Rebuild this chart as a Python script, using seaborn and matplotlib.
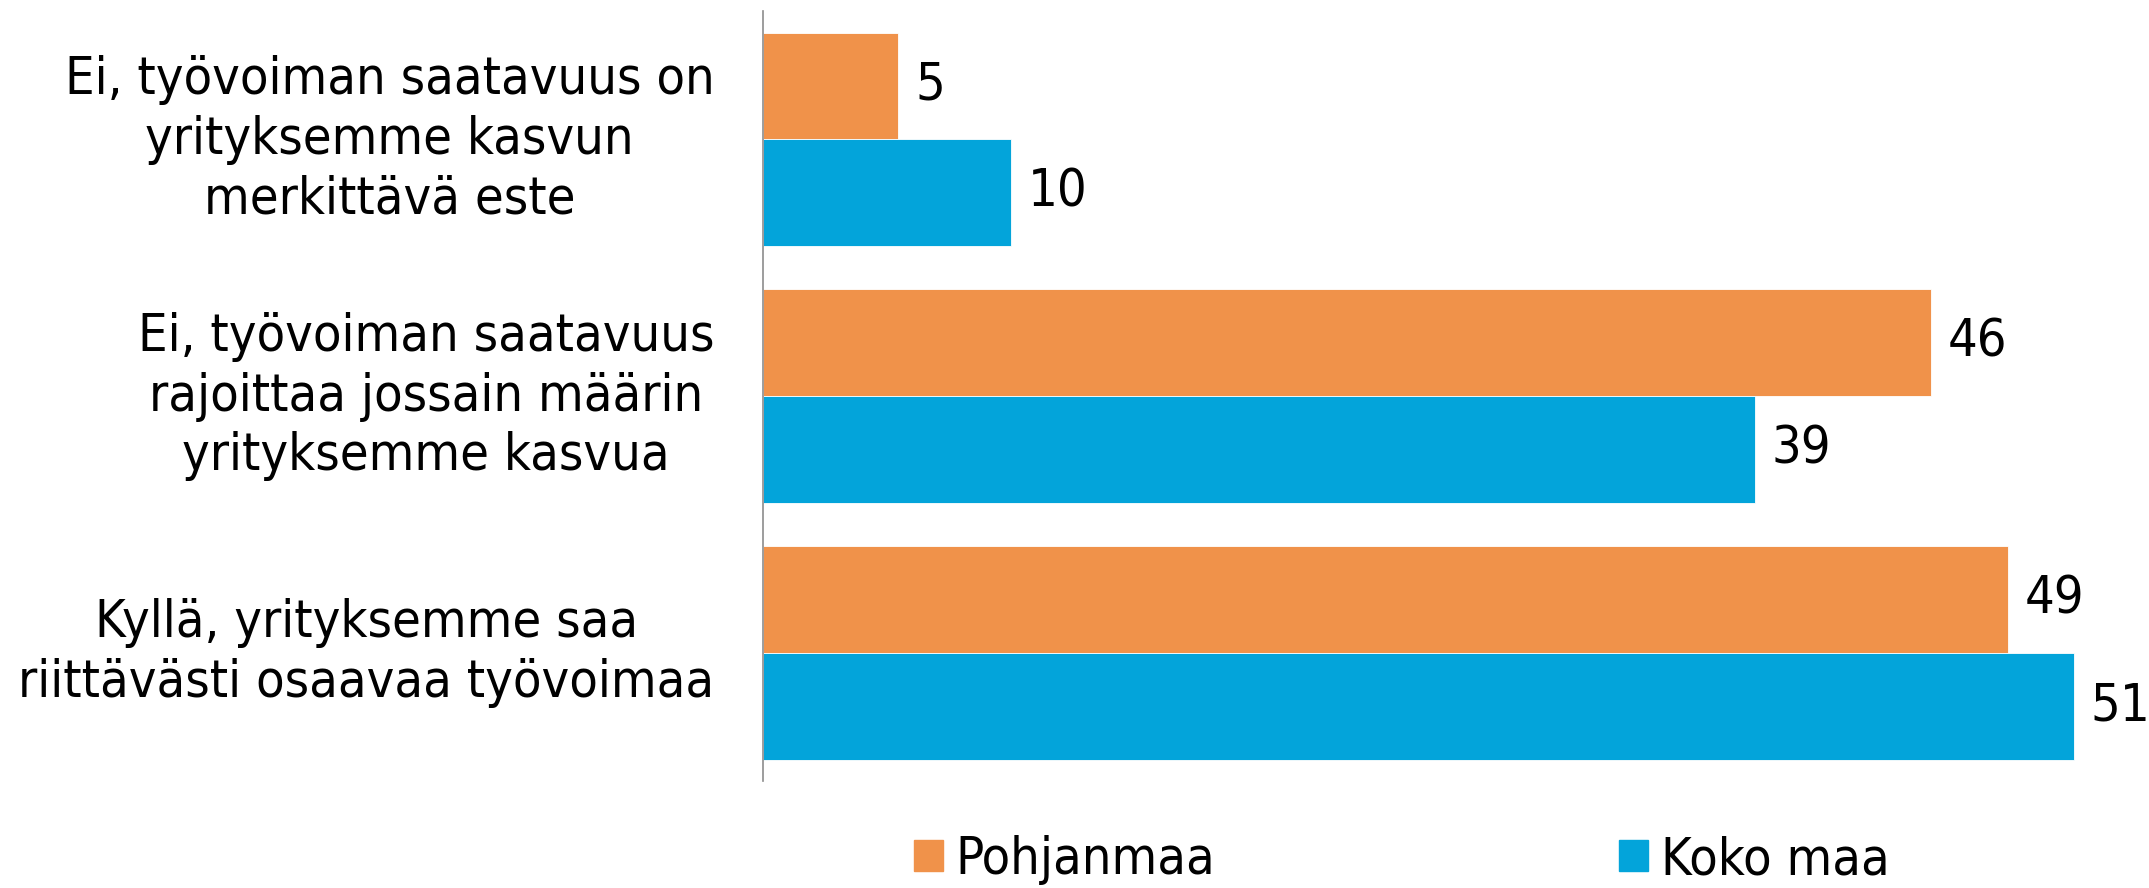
import pandas as pd
import matplotlib.pyplot as plt
import matplotlib.transforms as mtransforms
import seaborn as sns

kategoriat = [
    'Ei, työvoiman saatavuus on\nyrityksemme kasvun\nmerkittävä este',
    'Ei, työvoiman saatavuus\nrajoittaa jossain määrin\nyrityksemme kasvua',
    'Kyllä, yrityksemme saa\nriittävästi osaavaa työvoimaa',
]
sarjat = ['Pohjanmaa', 'Koko maa']
# bar lengths, labels show the rounded value
pohjanmaa = [5.3, 45.7, 48.7]
koko_maa = [9.7, 38.8, 51.3]
varit = ['#F0924A', '#03A4DA']

df = pd.DataFrame({
    'Kategoria': kategoriat * 2,
    'Alue': [sarjat[0]] * 3 + [sarjat[1]] * 3,
    'Osuus': pohjanmaa + koko_maa,
})

sns.set_style('white')
plt.rcParams['font.family'] = ['DejaVu Sans']
plt.rcParams['font.stretch'] = 'condensed'
plt.rcParams['text.color'] = 'black'
plt.rcParams['ytick.color'] = 'black'

fig = plt.figure(figsize=(21.49, 8.88), dpi=100)
ax = fig.add_axes([0.355, 0.1205, 0.634, 0.867])

sns.barplot(data=df, y='Kategoria', x='Osuus', hue='Alue', orient='h',
            palette=varit, saturation=1, width=0.833, ax=ax, legend=False,
            edgecolor='white', linewidth=0.6)

for cont in ax.containers:
    ax.bar_label(cont, fmt='%.0f', padding=12, fontsize=37.5, color='black',
                 fontstretch='condensed')

ax.set_xlim(0, 53.3)
ax.set_ylim(2.5, -0.5)
ax.set_xlabel('')
ax.set_ylabel('')
ax.set_xticks([])
ax.tick_params(axis='y', length=0, pad=35)
nosto = mtransforms.ScaledTranslation(0, 7 / 72, fig.dpi_scale_trans)
for lab in ax.get_yticklabels():
    lab.set_fontstretch('condensed')
    lab.set_fontsize(37.5)
    lab.set_multialignment('center')
    lab.set_linespacing(1.25)
    lab.set_transform(lab.get_transform() + nosto)

for s in ['top', 'right', 'bottom']:
    ax.spines[s].set_visible(False)
ax.spines['left'].set_color('#8C8C8C')
ax.spines['left'].set_linewidth(1.2)

handles = [plt.Rectangle((0, 0), 1, 1, color=c) for c in varit]
fig.legend(handles, sarjat, loc='center left', bbox_to_anchor=(914 / 2149, 28 / 888),
           ncol=2, frameon=False, handlelength=0.55,
           handleheight=0.55, handletextpad=0.25, columnspacing=7.75,
           borderpad=0, borderaxespad=0,
           prop={'size': 37.5, 'stretch': 'condensed'})

plt.savefig('out.png', dpi=100)
